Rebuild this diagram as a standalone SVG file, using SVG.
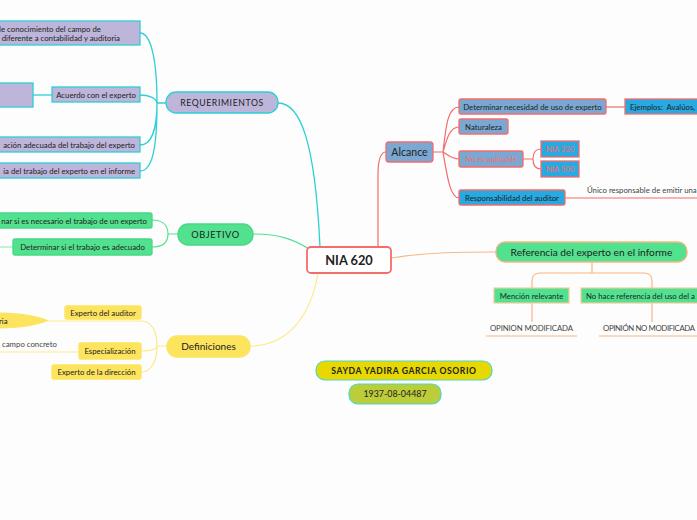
<svg xmlns="http://www.w3.org/2000/svg" width="697" height="520" viewBox="0 0 697 520">
<style>
text{font-family:"Lato","Noto Sans",sans-serif;fill:#222;}
.s{font-size:7.8px;}
.lav{fill:#bdb6da;stroke:#2ccfd6;stroke-width:1.3;}
.grn{fill:#52e28f;stroke:#48d686;stroke-width:1.3;}
.yel{fill:#fde45e;stroke:#fde45e;stroke-width:1.3;}
.stb{fill:#7aa8d3;stroke:#f46c6c;stroke-width:1.3;}
.blu{fill:#27a9e1;stroke:#f46c6c;stroke-width:1.3;}
.cy{fill:none;stroke:#2ccfd6;stroke-width:1.3;}
.gl{fill:none;stroke:#52e28f;stroke-width:1.2;}
.yl{fill:none;stroke:#fde98a;stroke-width:1.2;}
.rl{fill:none;stroke:#f46c6c;stroke-width:1.2;}
.ol{fill:none;stroke:#f9b582;stroke-width:1.2;}
.red{fill:#f46c6c;}
.gray{fill:#444;}
</style>
<rect width="697" height="520" fill="#fdfdfd"/>
<g id="connectors">
<path class="cy" d="M278,103 C300,103 315,140 320,247"/>
<path class="cy" d="M166,103 L157,103 M157,103 C157,60 151,33 140,33 M157,103 C156,98 149,95 140,95 M157,103 C157,130 151,145 140,145 M157,103 C157,150 152,171 140,171"/>
<path class="cy" d="M33,95 L52,95"/>
<path class="gl" d="M253,234 C280,234 295,240 309,249"/>
<path class="gl" d="M178,234 L168,234 M168,234 C168,224 161,220 152,220 M168,234 C168,244 161,247 152,247"/>
<path class="gl" d="M13,247 L0,247" stroke-opacity="0.6"/>
<path class="yl" d="M250,346 C285,346 310,320 318,273"/>
<path class="yl" d="M167,346 L157,346 M157,346 C157,330 151,321 141,321 M157,346 C157,349 151,351 141,351 M157,346 C157,362 151,372 141,372"/>
<path class="yl" d="M47,321 L141,321 M0,352 L79,352"/>
<path class="rl" d="M378,247 L378,175 C378,160 380,152 386,152"/>
<path class="rl" d="M433,152 L443,152 M443,152 C446,125 448,107 459,107 M443,152 C447,138 450,127 459,127 M443,152 C448,155 452,159 459,159 M443,152 C447,175 450,198 459,198"/>
<path class="rl" d="M606,107 L625,107"/>
<path class="rl" d="M523,159 L533,159 M533,159 C533,153 535,149 541,149 M533,159 C533,165 535,169 541,169"/>
<path class="rl" d="M565,198 L697,198" stroke="#f7a5a5"/>
<path class="ol" d="M391,258 C430,252 460,252 496,252"/>
<path class="ol" d="M592,262 L592,273 M592,273 L540,273 Q532,273 532,281 L532,288 M592,273 L644,273 Q652,273 652,281 L652,288"/>
<path class="ol" d="M532,303 L532,322 M652,303 L652,322 M486,336 L577,336 M599,336 L697,336"/>
</g>
<g id="nia620">
<rect x="307" y="247" width="84" height="26" rx="4" fill="#fff" stroke="#f46c6c" stroke-width="1.8"/>
<text x="349" y="264.5" font-size="12.8" font-weight="bold" text-anchor="middle">NIA 620</text>
</g>
<g id="requerimientos">
<rect class="lav" x="166" y="92" width="112" height="21" rx="10"/>
<text x="222" y="106" font-size="8.7" letter-spacing="0.6" text-anchor="middle">REQUERIMIENTOS</text>
</g>
<g id="req1">
<rect class="lav" x="-5" y="21" width="145" height="24"/>
<text class="s" x="101" y="31.5" text-anchor="end">de conocimiento del campo de</text>
<text class="s" x="120" y="40.5" text-anchor="end">diferente a contabilidad y auditoria</text>
</g>
<g id="req2">
<rect class="lav" x="52" y="87" width="88" height="15"/>
<text class="s" x="96" y="97.5" text-anchor="middle">Acuerdo con el experto</text>
</g>
<g id="req2a"><rect class="lav" x="-5" y="83" width="38" height="24"/></g>
<g id="req3">
<rect class="lav" x="-5" y="137" width="145" height="15"/>
<text class="s" x="135" y="147.5" text-anchor="end">ación adecuada del trabajo del experto</text>
</g>
<g id="req4">
<rect class="lav" x="-5" y="163" width="145" height="15"/>
<text class="s" x="135" y="173.5" text-anchor="end">ia del trabajo del experto en el informe</text>
</g>
<g id="objetivo">
<rect class="grn" x="178" y="224" width="75" height="21" rx="10"/>
<text x="215.5" y="238" font-size="9.3" letter-spacing="0.5" text-anchor="middle">OBJETIVO</text>
</g>
<g id="obj1">
<rect class="grn" x="-5" y="213" width="157" height="15" rx="2"/>
<text class="s" x="147" y="223.5" text-anchor="end">nar si es necesario el trabajo de un experto</text>
</g>
<g id="obj2">
<rect class="grn" x="13" y="239" width="139" height="16" rx="2"/>
<text class="s" x="82.5" y="250" text-anchor="middle">Determinar si el trabajo es adecuado</text>
</g>
<g id="definiciones">
<rect class="yel" x="167" y="336" width="83" height="21" rx="10"/>
<text x="208.5" y="350" font-size="10" text-anchor="middle">Definiciones</text>
</g>
<g id="def1">
<rect class="yel" x="65" y="306" width="76" height="13" rx="2"/>
<text class="s" x="103" y="315.5" text-anchor="middle">Experto del auditor</text>
</g>
<g id="def1a">
<path class="yel" d="M-5,313 Q30,313 47,320.5 Q30,328 -5,328 Z"/>
<text class="s" x="-1" y="323.5">ria</text>
</g>
<g id="def2">
<rect class="yel" x="79" y="343" width="62" height="16" rx="2"/>
<text class="s" x="110" y="354" text-anchor="middle">Especialización</text>
</g>
<g id="def2a"><text class="s gray" x="2" y="347">campo concreto</text></g>
<g id="def3">
<rect class="yel" x="52" y="365" width="89" height="14" rx="2"/>
<text class="s" x="96.5" y="375" text-anchor="middle">Experto de la dirección</text>
</g>
<g id="alcance">
<rect class="stb" x="386" y="142" width="47" height="20" rx="3"/>
<text x="409.5" y="155.5" font-size="10.6" text-anchor="middle">Alcance</text>
</g>
<g id="alc1">
<rect class="stb" x="459" y="99" width="147" height="15" rx="2"/>
<text class="s" x="532.5" y="109.5" text-anchor="middle">Determinar necesidad de uso de experto</text>
</g>
<g id="alc1a">
<rect class="blu" x="625" y="99" width="80" height="15"/>
<text class="s" x="630" y="109.5" style="white-space:pre">Ejemplos:  Avalúos,</text>
</g>
<g id="alc2">
<rect class="stb" x="459" y="119" width="49" height="15" rx="2"/>
<text class="s" x="483.5" y="129.5" text-anchor="middle">Naturaleza</text>
</g>
<g id="alc3">
<rect class="stb" x="459" y="151" width="64" height="16" rx="2"/>
<text class="s red" x="491" y="162" text-anchor="middle">No es aplicable</text>
</g>
<g id="nia220">
<rect class="blu" x="541" y="141" width="38" height="16"/>
<text class="s red" x="560" y="152" text-anchor="middle">NIA 220</text>
</g>
<g id="nia500">
<rect class="blu" x="541" y="161" width="38" height="16"/>
<text class="s red" x="560" y="172" text-anchor="middle">NIA 500</text>
</g>
<g id="alc4">
<rect class="blu" x="459" y="190" width="106" height="15" rx="2"/>
<text class="s" x="512" y="200.5" text-anchor="middle">Responsabilidad del auditor</text>
</g>
<g id="alc4a"><text class="s gray" x="587" y="193">Único responsable de emitir una</text></g>
<g id="referencia">
<rect x="496" y="242" width="191" height="20" rx="9" fill="#52e28f" stroke="#f9b582" stroke-width="1.3"/>
<text x="591.5" y="255.5" font-size="10.2" text-anchor="middle">Referencia del experto en el informe</text>
</g>
<g id="ref1">
<rect x="494" y="288" width="75" height="15" fill="#52e28f" stroke="#f9c99e" stroke-width="1.2"/>
<text class="s" x="531.5" y="298.5" text-anchor="middle">Mención relevante</text>
</g>
<g id="ref2">
<rect x="581" y="288" width="125" height="15" fill="#52e28f" stroke="#f9c99e" stroke-width="1.2"/>
<text class="s" x="586" y="298.5">No hace referencia del uso del a</text>
</g>
<g id="ref1a"><text class="s gray" x="490" y="331" textLength="83" lengthAdjust="spacing">OPINION MODIFICADA</text></g>
<g id="ref2a"><text class="s gray" x="603" y="331" textLength="92" lengthAdjust="spacing">OPINIÓN NO MODIFICADA</text></g>
<g id="autor">
<rect x="316" y="361" width="176" height="19" rx="9" fill="#e6d800" stroke="#4fd6c9" stroke-width="1.2"/>
<text x="404" y="373.8" font-size="8.6" font-weight="bold" letter-spacing="0.6" text-anchor="middle">SAYDA YADIRA GARCIA OSORIO</text>
</g>
<g id="carne">
<rect x="349" y="384" width="92" height="20" rx="9" fill="#bccd3a" stroke="#4fd6c9" stroke-width="1.2"/>
<text x="395" y="397.3" font-size="8.9" text-anchor="middle">1937-08-04487</text>
</g>
</svg>
